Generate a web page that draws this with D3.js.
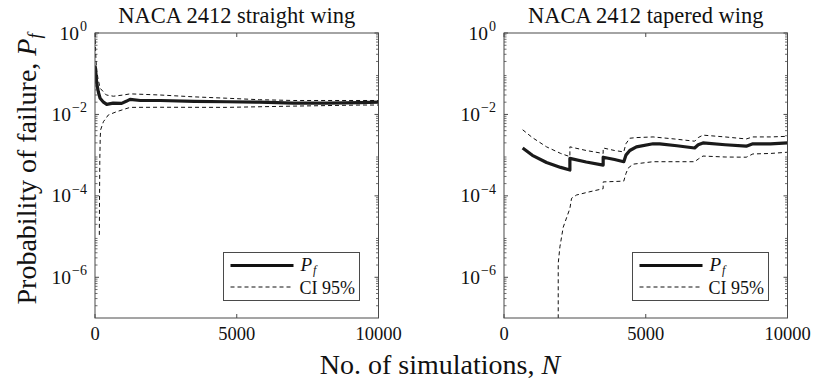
<!DOCTYPE html>
<html><head><meta charset="utf-8">
<script src="https://cdn.jsdelivr.net/npm/d3@7"></script>
<style>body{margin:0;background:#fff}svg{display:block}</style>
</head><body><svg id="c" width="814" height="387"></svg>
<script>
const FONT = "'Liberation Serif', 'DejaVu Serif', 'Times New Roman', serif";
const titles = ["NACA 2412 straight wing", "NACA 2412 tapered wing"];
const xTicks = [0, 5000, 10000];
const yTicks = [1e0, 1e-2, 1e-4, 1e-6];
const yExps = ["0", "\u22122", "\u22124", "\u22126"];
const legendLabels = ["P", "CI 95%"];

const straightPfN = [0, 20, 60, 120, 180, 300, 413, 640, 940, 1100, 1237, 1600, 2300, 3500, 4650, 5800, 7000, 8200, 9360, 10000];
const straightPf  = [0.16, 0.13, 0.059, 0.035, 0.025, 0.02, 0.0177, 0.019, 0.0187, 0.021, 0.0235, 0.022, 0.022, 0.021, 0.0205, 0.02, 0.019, 0.019, 0.0195, 0.02];
const straightUpN = [0, 15, 30, 60, 100, 180, 400, 650, 1000, 1240, 2300, 3500, 4650, 5800, 7000, 8500, 10000];
const straightUp  = [1.0, 0.5, 0.25, 0.12, 0.08, 0.044, 0.030, 0.028, 0.030, 0.032, 0.030, 0.027, 0.025, 0.023, 0.022, 0.022, 0.022];
const straightLoN = [153, 160, 170, 185, 200, 295, 471, 766, 1237, 2300, 4650, 7000, 9360, 10000];
const straightLo  = [1.1e-5, 1e-4, 8e-4, 0.0028, 0.0042, 0.0066, 0.0097, 0.0117, 0.0149, 0.015, 0.0149, 0.016, 0.017, 0.017];

const taperPfN = [658, 1000, 1500, 2000, 2324, 2324, 2900, 3498, 3498, 3900, 4225, 4300, 4437, 4671, 5258, 5493, 6100, 6725, 6850, 7019, 7800, 8545, 8779, 9400, 10000];
const taperPf  = [0.0015, 0.00099, 0.00066, 0.0005, 0.00043, 0.00083, 0.00068, 0.00057, 0.00089, 0.00078, 0.00069, 0.001, 0.0013, 0.0016, 0.0019, 0.0019, 0.0017, 0.0015, 0.0018, 0.002, 0.0018, 0.00166, 0.0019, 0.0019, 0.002];
const taperUpN = [658, 1000, 1500, 2000, 2324, 2324, 2900, 3498, 3498, 3900, 4225, 4300, 4437, 4671, 5258, 6000, 6725, 6850, 7019, 7800, 8545, 8779, 9400, 10000];
const taperUp  = [0.0042, 0.0027, 0.0016, 0.0011, 0.00092, 0.0016, 0.0013, 0.0011, 0.0015, 0.0013, 0.0012, 0.0019, 0.0026, 0.0027, 0.0028, 0.0025, 0.0022, 0.0027, 0.0031, 0.0028, 0.0025, 0.0028, 0.0028, 0.0029];
const taperLoN = [1913, 1913, 1972, 2089, 2324, 2383, 2559, 3000, 3498, 3498, 4225, 4300, 4378, 4554, 5258, 6000, 6725, 6850, 7019, 7800, 8545, 8779, 9400, 10000];
const taperLo  = [3e-8, 2.2e-6, 5.6e-6, 1.7e-5, 4.9e-5, 8.7e-5, 1.05e-4, 1.25e-4, 1.5e-4, 2.2e-4, 2.3e-4, 3.5e-4, 4.8e-4, 6.0e-4, 6.9e-4, 6.9e-4, 6.9e-4, 8e-4, 9.5e-4, 9e-4, 8.9e-4, 1.07e-3, 1.1e-3, 1.18e-3];

const panels = [
  {left: 95, title: titles[0], pf: [straightPfN, straightPf], up: [straightUpN, straightUp], lo: [straightLoN, straightLo]},
  {left: 504, title: titles[1], pf: [taperPfN, taperPf], up: [taperUpN, taperUp], lo: [taperLoN, taperLo]}
];
const W = 283.5, yTop = 33, yBot = 318;
const svg = d3.select("#c");
const frame = "#4a4a4a";
const txt = (sel) => sel.append("text").style("font-family", FONT).attr("fill", "#111");

panels.forEach((p, i) => {
  const x = d3.scaleLinear().domain([0, 10000]).range([p.left, p.left + W]);
  const y = d3.scaleLog().domain([1e-7, 1]).range([yBot, yTop]);
  const g = svg.append("g");
  const cid = "clip" + i;
  svg.append("clipPath").attr("id", cid).append("rect")
    .attr("x", p.left).attr("y", yTop).attr("width", W).attr("height", yBot - yTop);

  const minors = [];
  for (let e = -7; e < 0; e++) for (let m = 2; m <= 9; m++) minors.push(m * Math.pow(10, e));
  minors.forEach(v => {
    g.append("line").attr("x1", p.left).attr("x2", p.left + 2.5).attr("y1", y(v)).attr("y2", y(v)).attr("stroke", frame).attr("stroke-width", 0.8);
    g.append("line").attr("x1", p.left + W).attr("x2", p.left + W - 2.5).attr("y1", y(v)).attr("y2", y(v)).attr("stroke", frame).attr("stroke-width", 0.8);
  });
  yTicks.forEach((v, k) => {
    g.append("line").attr("x1", p.left).attr("x2", p.left + 4).attr("y1", y(v)).attr("y2", y(v)).attr("stroke", frame);
    g.append("line").attr("x1", p.left + W).attr("x2", p.left + W - 4).attr("y1", y(v)).attr("y2", y(v)).attr("stroke", frame);
    const t = txt(g).attr("x", p.left - 8).attr("y", y(v) + 6.5).attr("text-anchor", "end").attr("font-size", 19.5);
    t.append("tspan").text("10");
    t.append("tspan").attr("dy", -8.5).attr("dx", 1).attr("font-size", 14).text(yExps[k]);
  });
  xTicks.forEach(v => {
    g.append("line").attr("x1", x(v)).attr("x2", x(v)).attr("y1", yBot).attr("y2", yBot - 4).attr("stroke", frame);
    g.append("line").attr("x1", x(v)).attr("x2", x(v)).attr("y1", yTop).attr("y2", yTop + 4).attr("stroke", frame);
    txt(g).attr("x", x(v)).attr("y", 340).attr("text-anchor", "middle").attr("font-size", 18.5).text(v);
  });

  const line = d3.line().x(d => x(d[0])).y(d => y(d[1]));
  const zip = s => s[0].map((n, k) => [n, s[1][k]]);
  const plot = svg.append("g").attr("clip-path", `url(#${cid})`);
  [p.up, p.lo].forEach(s => plot.append("path").attr("d", line(zip(s))).attr("fill", "none")
    .attr("stroke", "#111").attr("stroke-width", 1).attr("stroke-dasharray", "4,3"));
  plot.append("path").attr("d", line(zip(p.pf))).attr("fill", "none")
    .attr("stroke", "#1a1a1a").attr("stroke-width", 3.2).attr("stroke-linejoin", "round");

  svg.append("rect").attr("x", p.left).attr("y", yTop).attr("width", W).attr("height", yBot - yTop)
    .attr("fill", "none").attr("stroke", frame).attr("stroke-width", 1);

  txt(svg).attr("x", p.left + W / 2).attr("y", 23).attr("text-anchor", "middle")
    .attr("font-size", 22.5).text(p.title);

  const lx = p.left + W - 155, ly = 252.5;
  const lg = svg.append("g");
  lg.append("rect").attr("x", lx).attr("y", ly).attr("width", 136).attr("height", 48)
    .attr("fill", "#fff").attr("stroke", frame).attr("stroke-width", 1);
  lg.append("line").attr("x1", lx + 7).attr("x2", lx + 70).attr("y1", ly + 13).attr("y2", ly + 13).attr("stroke", "#111").attr("stroke-width", 3.2);
  lg.append("line").attr("x1", lx + 7).attr("x2", lx + 70).attr("y1", ly + 34.5).attr("y2", ly + 34.5).attr("stroke", "#111").attr("stroke-width", 1).attr("stroke-dasharray", "4,3");
  const t1 = txt(lg).attr("x", lx + 77).attr("y", ly + 18).attr("font-size", 19).attr("font-style", "italic");
  t1.append("tspan").text(legendLabels[0]);
  t1.append("tspan").attr("dy", 3).attr("dx", 1).attr("font-size", 12).text("f");
  txt(lg).attr("x", lx + 76).attr("y", ly + 41).attr("font-size", 18).text(legendLabels[1]);
});

const yl = txt(svg).attr("transform", "translate(36,169) rotate(-90)").attr("text-anchor", "middle").attr("font-size", 28);
yl.append("tspan").text("Probability of failure, ");
yl.append("tspan").attr("font-style", "italic").text("P");
yl.append("tspan").attr("font-style", "italic").attr("font-size", 18).attr("dy", 5).text("f");

const xl = txt(svg).attr("x", 440).attr("y", 374).attr("text-anchor", "middle").attr("font-size", 28);
xl.append("tspan").text("No. of simulations, ");
xl.append("tspan").attr("font-style", "italic").text("N");
</script></body></html>
